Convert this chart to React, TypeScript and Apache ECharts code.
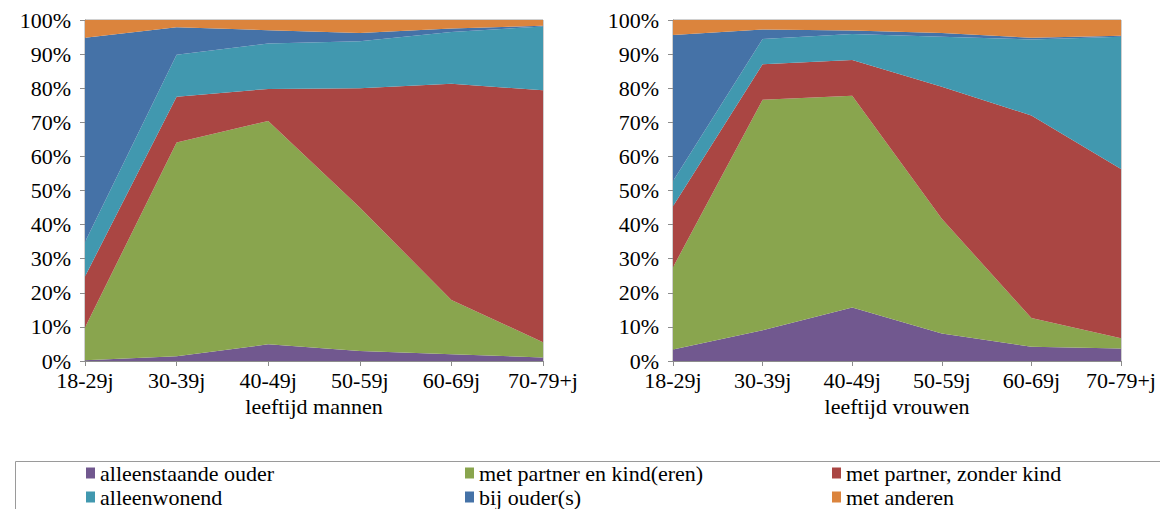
import React, { useEffect, useRef } from "react";
import * as echarts from "echarts";

const categories = ["18-29j", "30-39j", "40-49j", "50-59j", "60-69j", "70-79+j"];
const seriesNames = [
  "alleenstaande ouder",
  "met partner en kind(eren)",
  "met partner, zonder kind",
  "alleenwonend",
  "bij ouder(s)",
  "met anderen",
];
const colors = ["#71588F", "#89A54E", "#AA4643", "#4198AF", "#4572A7", "#DB843D"];

// mannen (percentages)
const menAlleenstaandeOuder = [0.2, 1.4, 4.9, 2.9, 2.0, 1.0];
const menPartnerKind = [9.6, 62.7, 65.5, 42.1, 15.9, 4.5];
const menPartnerZonderKind = [15.0, 13.4, 9.4, 35.0, 63.4, 73.9];
const menAlleenwonend = [10.1, 12.3, 13.3, 13.8, 15.2, 18.7];
const menBijOuders = [59.9, 8.1, 3.9, 2.4, 1.0, 0.2];
const menAnderen = [5.2, 2.1, 3.0, 3.8, 2.5, 1.7];

// vrouwen (percentages)
const vrAlleenstaandeOuder = [3.4, 9.0, 15.7, 8.1, 4.2, 3.7];
const vrPartnerKind = [24.1, 67.6, 62.1, 33.6, 8.4, 3.0];
const vrPartnerZonderKind = [17.9, 10.4, 10.5, 38.7, 59.4, 49.6];
const vrAlleenwonend = [7.4, 7.4, 7.6, 14.7, 22.3, 38.8];
const vrBijOuders = [42.8, 2.8, 1.0, 1.1, 0.5, 0.3];
const vrAnderen = [4.4, 2.8, 3.2, 3.8, 5.2, 4.6];

const menData = [menAlleenstaandeOuder, menPartnerKind, menPartnerZonderKind, menAlleenwonend, menBijOuders, menAnderen];
const vrData = [vrAlleenstaandeOuder, vrPartnerKind, vrPartnerZonderKind, vrAlleenwonend, vrBijOuders, vrAnderen];

const FONT = "Liberation Serif";

export default function App() {
  const ref = useRef<HTMLDivElement>(null);
  useEffect(() => {
    document.body.style.margin = "0";
    const el = ref.current!;
    const chart = echarts.init(el, undefined, { renderer: "svg" });
    const axisLine = { show: true, lineStyle: { color: "#8c8c8c", width: 1 } };
    const mkX = (gridIndex: number, name: string) => ({
      type: "category",
      gridIndex,
      data: categories,
      boundaryGap: false,
      name,
      nameLocation: "middle",
      nameGap: 29,
      nameTextStyle: { fontFamily: FONT, fontSize: 22, color: "#000" },
      axisLine,
      axisTick: { show: true, length: 5, lineStyle: { color: "#8c8c8c" }, interval: 0 },
      axisLabel: { fontFamily: FONT, fontSize: 22, color: "#000", margin: 8, interval: 0 },
      splitLine: { show: false },
    });
    const mkY = (gridIndex: number) => ({
      type: "value",
      gridIndex,
      min: 0,
      max: 100,
      interval: 10,
      axisLine,
      axisTick: { show: true, length: 5, lineStyle: { color: "#8c8c8c" } },
      axisLabel: { fontFamily: FONT, fontSize: 22, color: "#000", margin: 14, formatter: "{value}%" },
      splitLine: { show: false },
    });
    const mkSeries = (data: number[][], idx: number, stack: string) =>
      seriesNames.map((name, i) => ({
        type: "line",
        name,
        xAxisIndex: idx,
        yAxisIndex: idx,
        stack,
        data: data[i],
        symbol: "none",
        lineStyle: { width: 0 },
        areaStyle: { color: colors[i], opacity: 1 },
        itemStyle: { color: colors[i] },
        emphasis: { disabled: true },
      }));
    const legendBase = {
      orient: "vertical",
      top: 462,
      itemWidth: 9,
      itemHeight: 11,
      itemGap: 2,
      padding: 0,
      icon: "rect",
      textStyle: { fontFamily: FONT, fontSize: 22, color: "#000" },
    };
    chart.setOption({
      animation: false,
      color: colors,
      grid: [
        { left: 85, right: 1160 - 543, top: 20, bottom: 509 - 361, show: true, borderColor: "#a0a0a0", borderWidth: 1 },
        { left: 673, right: 1160 - 1121, top: 20, bottom: 509 - 361, show: true, borderColor: "#a0a0a0", borderWidth: 1 },
      ],
      xAxis: [mkX(0, "leeftijd mannen"), mkX(1, "leeftijd vrouwen")],
      yAxis: [mkY(0), mkY(1)],
      legend: [
        { ...legendBase, left: 86, data: [seriesNames[0], seriesNames[3]] },
        { ...legendBase, left: 465, data: [seriesNames[1], seriesNames[4]] },
        { ...legendBase, left: 832, data: [seriesNames[2], seriesNames[5]] },
      ],
      graphic: [
        {
          type: "rect",
          shape: { x: 15.5, y: 461.5, width: 1160, height: 60 },
          style: { fill: "none", stroke: "#9a9a9a", lineWidth: 1 },
          silent: true,
          z: -1,
        },
      ],
      series: [...mkSeries(menData, 0, "men"), ...mkSeries(vrData, 1, "vr")],
    });
    const fixFonts = () => {
      el.querySelectorAll("text").forEach((t) => {
        (t as SVGTextElement).style.fontFamily = '"Liberation Serif", serif';
      });
    };
    fixFonts();
    chart.on("finished", fixFonts);
    return () => chart.dispose();
  }, []);
  return <div ref={ref} style={{ width: 1160, height: 509 }} />;
}
